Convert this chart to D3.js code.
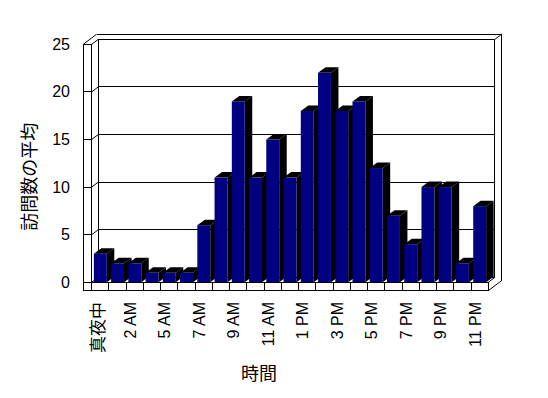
<!DOCTYPE html>
<html><head><meta charset="utf-8">
<script src="https://cdn.jsdelivr.net/npm/d3@7"></script>
<style>
html,body{margin:0;padding:0;background:#fff;}
svg{display:block;}
text{font-family:"Liberation Sans",Arial,"Noto Sans CJK JP",sans-serif;fill:#000;}
</style></head>
<body>
<svg id="chart" width="548" height="398"></svg>
<script>
const categories = ["真夜中","1 AM","2 AM","3 AM","5 AM","6 AM","7 AM","8 AM","9 AM","10 AM","11 AM","12 PM",
  "1 PM","2 PM","3 PM","4 PM","5 PM","6 PM","7 PM","8 PM","9 PM","10 PM","11 PM"];
const values = [3,2,2,1,1,1,6,11,19,11,15,11,18,22,18,19,12,7,4,10,10,2,8];
const yTicks = [0,5,10,15,20,25];
const yTitle = "訪問数の平均";
const xTitle = "時間";

const svg = d3.select("#chart");
const L = {left:91.7, right:488.3, top:44.3, bottom:282.3, wallT:8.4, floorT:8.4, dx:6.6, dy:-5, bdx:7.5, bdy:-5.5};

const x = d3.scaleBand().domain(categories).range([L.left, L.right]).paddingInner(0.25).paddingOuter(0.125);
const y = d3.scaleLinear().domain([0,25]).range([L.bottom, L.top]);
const step = x.step();
const slotStart = c => x(c) - step*x.paddingInner()/2;

const line = (x1,y1,x2,y2) => svg.append("line").attr("x1",x1).attr("y1",y1).attr("x2",x2).attr("y2",y2)
  .attr("stroke","#000").attr("stroke-width",1).attr("shape-rendering","crispEdges");
const diag = (x1,y1,x2,y2) => svg.append("line").attr("x1",x1).attr("y1",y1).attr("x2",x2).attr("y2",y2)
  .attr("stroke","#000").attr("stroke-width",1);

const bx0 = L.left + L.dx, bx1 = L.right + L.dx;      // back wall inner face x
const yb = v => y(v) + L.dy;                            // back wall y
const ox = L.left - L.wallT, ob = L.bottom + L.floorT;  // outer left x, floor bottom

// back wall face: gridlines
yTicks.forEach(v => {
  line(bx0, yb(v), bx1, yb(v));
  diag(L.left, y(v), bx0, yb(v));
});
line(bx0, yb(25), bx0, yb(0));
line(bx1, yb(25), bx1, yb(0));
// outer top / right of back wall
line(ox + 2*L.dx, y(25) + 2*L.dy, L.right + 2*L.dx, y(25) + 2*L.dy);
diag(ox, y(25), ox + 2*L.dx, y(25) + 2*L.dy);
diag(bx1, yb(25), L.right + 2*L.dx, y(25) + 2*L.dy);
line(L.right + 2*L.dx, y(25) + 2*L.dy, L.right + 2*L.dx, ob + 2*L.dy);
// floor right side
diag(L.right, L.bottom, bx1, yb(0));
diag(L.right, ob, L.right + 2*L.dx, ob + 2*L.dy);

// bars
const bars = svg.append("g");
categories.forEach((c,i) => {
  const bx = x(c), w = x.bandwidth(), yt = y(values[i]), y0 = y(0);
  const g = bars.append("g");
  g.append("polygon").attr("fill","#000")
    .attr("points", [[bx,yt],[bx+w,yt],[bx+w+L.bdx,yt+L.bdy],[bx+L.bdx,yt+L.bdy]].map(p=>p.join(",")).join(" "));
  g.append("polygon").attr("fill","#000")
    .attr("points", [[bx+w,yt],[bx+w+L.bdx,yt+L.bdy],[bx+w+L.bdx,y0+L.bdy],[bx+w,y0]].map(p=>p.join(",")).join(" "));
  g.append("rect").attr("x",bx).attr("y",yt).attr("width",w).attr("height",y0-yt).attr("fill","#000080");
});

// left wall front face
svg.append("rect").attr("x",ox).attr("y",y(25)).attr("width",L.wallT).attr("height",ob-y(25))
  .attr("fill","#fff").attr("stroke","#000").attr("shape-rendering","crispEdges");
yTicks.forEach(v => line(ox, y(v), L.left, y(v)));
// floor front face
svg.append("rect").attr("x",ox).attr("y",L.bottom).attr("width",L.right-ox).attr("height",L.floorT)
  .attr("fill","#fff").attr("stroke","#000").attr("shape-rendering","crispEdges");
categories.forEach(c => line(slotStart(c), L.bottom, slotStart(c), ob));

// y tick labels
svg.append("g").selectAll("text").data(yTicks).join("text")
  .attr("x", 70).attr("y", d => y(d)).attr("text-anchor","end").attr("dominant-baseline","central")
  .attr("font-size",16).text(d => d);

// x tick labels (every other)
svg.append("g").selectAll("text").data(categories.filter((c,i)=>i%2===0)).join("text")
  .attr("transform", (c,i) => `translate(${x(c)+x.bandwidth()/2 - (i===0?2:4.5)},302) rotate(-90)`)
  .attr("text-anchor","end").attr("dominant-baseline","central")
  .attr("font-size", (c,i)=> i===0?17:16).text(c => c);

// axis titles
svg.append("text").attr("transform","translate(30,176.7) rotate(-90)").attr("text-anchor","middle")
  .attr("dominant-baseline","central").attr("font-size",18).text(yTitle);
svg.append("text").attr("x",259).attr("y",374).attr("text-anchor","middle")
  .attr("dominant-baseline","central").attr("font-size",18).text(xTitle);
</script>
</body></html>
